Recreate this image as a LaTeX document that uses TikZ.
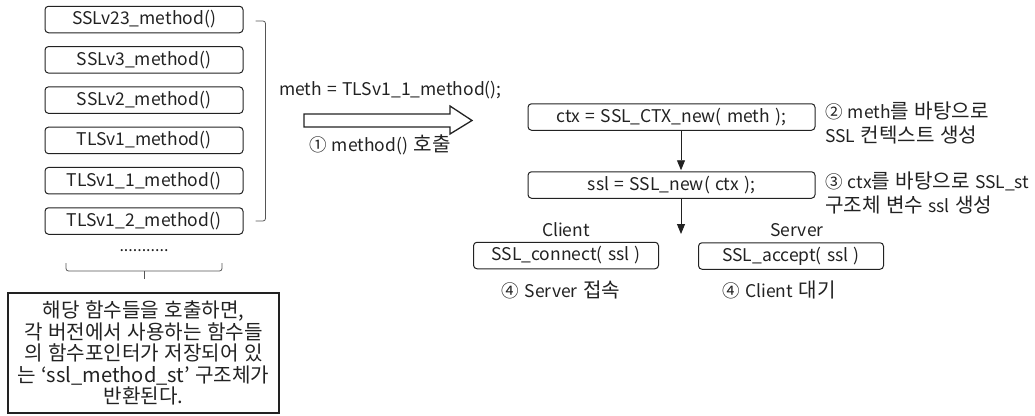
\documentclass[tikz,border=0pt]{standalone}
\usepackage{fontspec}
\setmainfont{Noto Sans CJK KR}[WordSpace=1.35]
\newfontfamily\krfont{Noto Sans CJK KR}[Scale=1.15, WordSpace=1.2]
\newcommand\kr[1]{{\krfont #1}}
\usetikzlibrary{arrows.meta}
\definecolor{ink}{HTML}{222222}
\definecolor{rule}{HTML}{555555}
\begin{document}
\begin{tikzpicture}[x=1pt,y=-1pt,
  every node/.style={text=ink, font=\fontsize{17.5}{21.5}\selectfont},
  fnbox/.style={draw=ink, line width=1pt, rounded corners=3.5pt,
    minimum height=26.5pt, inner sep=0pt},
  lbox/.style={fnbox, minimum width=198pt},
  rbox/.style={fnbox, minimum width=287pt},
  sbox/.style={fnbox, minimum width=185pt},
  flow/.style={draw=ink, line width=0.9pt, -{Triangle[width=8pt,length=10pt]}},
  thin rule/.style={draw=rule, line width=0.8pt, rounded corners=2.5pt},
  annot/.style={anchor=north west, align=left, inner sep=0pt,
    font=\fontsize{17.5}{24}\selectfont}
]
\useasboundingbox (0,0) rectangle (1035,415);

% method() constructors
\node[lbox] (m1) at (144,19.5)  {SSLv23\_method()};
\node[lbox] (m2) at (144,59.8)  {SSLv3\_method()};
\node[lbox] (m3) at (144,100.1) {SSLv2\_method()};
\node[lbox] (m4) at (144,140.4) {TLSv1\_method()};
\node[lbox] (m5) at (144,180.7) {TLSv1\_1\_method()};
\node[lbox] (m6) at (144,221)   {TLSv1\_2\_method()};
\node[font=\fontsize{16}{16}\selectfont, inner sep=0pt] (dots) at (144,251) {...........};

% bracket grouping the constructors
\draw[thin rule] ([xshift=12pt,yshift=-1.5pt]m1.east) -- ++(10,0)
  |- ([xshift=12pt]m6.east);

% brace under the list and the note box
\draw[thin rule] (66,263) |- (222,271) -- (222,263);
\coordinate (bmid) at (144,271);
\coordinate (btip) at (144,279);
\draw[thin rule] (bmid) -- (btip);
\node[draw=ink, line width=1.2pt, minimum width=271pt, minimum height=120pt,
  align=center, inner sep=0pt, font=\fontsize{17.5}{21.5}\selectfont\krfont] (note) at (143.5,353)
  {해당 함수들을 호출하면,\\각 버전에서 사용하는 함수들\\의 함수포인터가 저장되어 있\\는 ‘ssl\_method\_st’ 구조체가\\반환된다.};

% method() call
\node[anchor=west, inner sep=0pt] (meth) at (279,90) {meth = TLSv1\_1\_method();};
\draw[draw=ink, line width=1.3pt, fill=white]
  (304,114) -- (450,114) -- (450,106) -- (472,120.5) -- (450,134)
  -- (450,127) -- (304,127) -- cycle;
\node[anchor=west, inner sep=0pt] (call) at (309,145) {① method() \kr{호출}};

% context and session objects
\node[rbox] (ctx) at (671.5,117) {ctx = SSL\_CTX\_new( meth );};
\node[rbox] (ssl) at (671.5,185) {ssl = SSL\_new( ctx );};
\draw[flow] ([xshift=9.5pt]ctx.south) -- ([xshift=9.5pt,yshift=1pt]ssl.north);
\coordinate (split) at (681,234);
\draw[flow] ([xshift=9.5pt]ssl.south) -- (split);

\node[annot] (a2) at (825,102) {② meth\kr{를 바탕으로}\\SSL \kr{컨텍스트 생성}};
\node[annot] (a3) at (825,172) {③ ctx\kr{를 바탕으로} SSL\_st\\\kr{구조체 변수} ssl \kr{생성}};

% client and server sides
\node (cl) at (566,230) {Client};
\node[sbox] (conn) at (566,255.5) {SSL\_connect( ssl )};
\node (cln) at (561,290) {④ Server \kr{접속}};
\node (sv) at (797,230) {Server};
\node[sbox] (acc) at (791,256) {SSL\_accept( ssl )};
\node (svn) at (779,290) {④ Client \kr{대기}};
\end{tikzpicture}
\end{document}
